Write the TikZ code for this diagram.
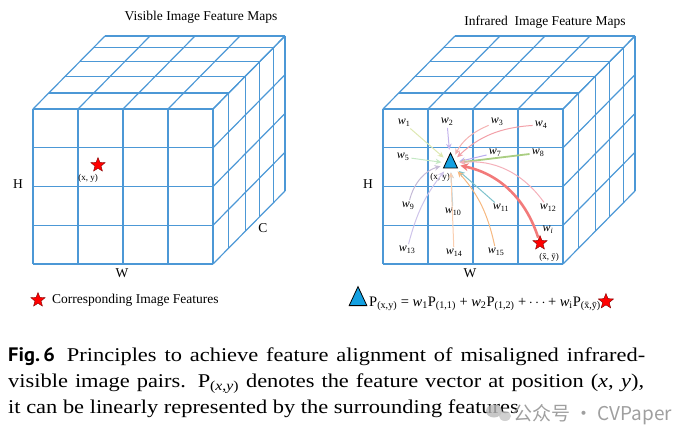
\documentclass[tikz,border=0pt]{standalone}
\usepackage{fontspec}
\setmainfont{Liberation Serif}
\newfontfamily\figsans[FakeStretch=1.05]{PT Sans}
\newfontfamily\capserif[FakeStretch=1.15]{Liberation Serif}
\newfontfamily\cjk{Noto Sans CJK SC}
\usetikzlibrary{arrows.meta,shapes.geometric}
\definecolor{gridblue}{RGB}{76,152,214}
\definecolor{tricyan}{RGB}{20,160,225}
\definecolor{cone}{RGB}{222,232,178}
\definecolor{ctwo}{RGB}{196,180,236}
\definecolor{cthree}{RGB}{244,178,178}
\definecolor{cfour}{RGB}{242,160,168}
\definecolor{cfive}{RGB}{196,232,196}
\definecolor{cseven}{RGB}{186,172,240}
\definecolor{ceight}{RGB}{170,206,130}
\definecolor{cnine}{RGB}{196,186,214}
\definecolor{cten}{RGB}{168,214,234}
\definecolor{celeven}{RGB}{126,194,204}
\definecolor{ctwelve}{RGB}{244,176,186}
\definecolor{cthirteen}{RGB}{206,196,234}
\definecolor{cfourteen}{RGB}{250,206,176}
\definecolor{cfifteen}{RGB}{246,184,128}
\definecolor{cwi}{RGB}{242,122,122}

\begin{document}
\begin{tikzpicture}[x=1pt,y=-1pt,
  grid/.style={gridblue,line width=1.2pt},
  lbl/.style={font=\fontsize{13.5}{15}\selectfont,inner sep=0pt},
  coord/.style={font=\fontsize{9}{10}\selectfont,inner sep=0pt},
  wlab/.style={font=\fontsize{12}{13}\selectfont,inner sep=1pt},
  wt/.style={-{Stealth[length=6pt,width=5.5pt]},line width=1pt,shorten >=4pt,shorten <=1pt},
  redstar/.style={shape=star,star points=5,star point ratio=2.3,fill=red,draw=red!50!black,line width=0.4pt,minimum size=15pt,inner sep=0pt},
  bluetri/.style={isosceles triangle,isosceles triangle apex angle=50,shape border rotate=90,fill=tricyan,draw=black,line width=0.8pt,minimum height=15pt,inner sep=0pt},
  capline/.style={font=\fontsize{19.5}{22}\capserif,inner sep=0pt,anchor=base west}]
\useasboundingbox (0,0) rectangle (694,442);
\foreach \ox in {33,383} {
  \begin{scope}[shift={(\ox,109)}]
    \foreach \i in {0,...,4} {
      \draw[grid] (\i*45,0) -- (\i*45,155);
      \draw[grid] (0,\i*38.75) -- (180,\i*38.75);
      \draw[grid] (\i*45,0) -- ++(72,-73);
      \draw[grid] (180,\i*38.75) -- ++(72,-73);
    }
    \foreach \f in {0.22,0.45,0.65,0.84,1} {
      \draw[grid] (\f*72,-\f*73) -- ++(180,0);
      \draw[grid] (180+\f*72,-\f*73) -- ++(0,155);
    }
  \end{scope}
}
% visible side
\node (ttlv) at (201,17) [lbl] {Visible Image Feature Maps};
\node (hv) at (18,184) [lbl] {H};
\node (wv) at (122,273) [lbl] {W};
\node (cv) at (263,228) [lbl] {C};
\node (starv) at (98,165) [redstar] {};
\node (xyv) at (88,178) [coord] {(x, y)};
\node (legstar) at (38,300) [redstar] {};
\node (legtxt) at (52,300) [lbl,anchor=west] {Corresponding Image Features};
% infrared side
\node (ttli) at (545,22) [lbl] {Infrared\ \ Image Feature Maps};
\node (hi) at (368,184) [lbl] {H};
\node (wir) at (470,273) [lbl] {W};
\node (tri) at (450.5,163.5) [bluetri] {};
\node (xyi) at (440,177) [coord] {(x, y)};
\node (stari) at (540,243) [redstar] {};
\node (xyb) at (549,257) [coord] {(\=x, \=y)};
\node (w1) at (404,123) [wlab] {\textit{w}\textsubscript{1}};
\node (w2) at (447,122) [wlab] {\textit{w}\textsubscript{2}};
\node (w3) at (497,122) [wlab] {\textit{w}\textsubscript{3}};
\node (w4) at (541,125) [wlab] {\textit{w}\textsubscript{4}};
\node (w5) at (403,157) [wlab] {\textit{w}\textsubscript{5}};
\node (w7) at (495,153) [wlab] {\textit{w}\textsubscript{7}};
\node (w8) at (538,153) [wlab] {\textit{w}\textsubscript{8}};
\node (w9) at (408,206) [wlab] {\textit{w}\textsubscript{9}};
\node (w10) at (453,212) [wlab] {\textit{w}\textsubscript{10}};
\node (w11) at (501,208) [wlab] {\textit{w}\textsubscript{11}};
\node (w12) at (548,208) [wlab] {\textit{w}\textsubscript{12}};
\node (w13) at (407,250) [wlab] {\textit{w}\textsubscript{13}};
\node (w14) at (454,253) [wlab] {\textit{w}\textsubscript{14}};
\node (w15) at (496,252) [wlab] {\textit{w}\textsubscript{15}};
\node (wi) at (548,230) [wlab] {\textit{w}\textsubscript{\textit{i}}};
\draw[wt,cone] (w1) -- (tri);
\draw[wt,ctwo] (w2) -- (tri);
\draw[wt,cthree] (w3) to[bend right=20] (tri);
\draw[wt,cfour] (w4) to[bend right=20] (tri);
\draw[wt,cfive] (w5) -- (tri);
\draw[wt,cseven] (w7) -- (tri);
\draw[wt,ceight,line width=1.8pt] (w8) -- (tri);
\draw[wt,cnine] (w9) to[bend left=30] (tri);
\draw[wt,cten] (w10) -- (tri);
\draw[wt,celeven] (w11) -- (tri);
\draw[wt,ctwelve] (w12) to[bend right=30] (tri);
\draw[wt,cthirteen] (w13) to[bend left=12] (tri);
\draw[wt,cfourteen] (w14) -- (tri);
\draw[wt,cfifteen] (w15) to[bend right=15] (tri);
\draw[wt,cwi,line width=2.6pt,-{Stealth[length=8pt,width=8pt]}] (stari) to[bend right=30] (tri);
% equation
\node (eqtri) at (358,300) [bluetri,minimum height=19pt] {};
\node (eq) at (369,306) [font=\fontsize{14.5}{16}\selectfont,inner sep=0pt,anchor=base west]
  {P\textsubscript{(x,y)} = \textit{w}\textsubscript{1}P\textsubscript{(1,1)} + \textit{w}\textsubscript{2}P\textsubscript{(1,2)} +\,$\cdots$\,+ \textit{w}\textsubscript{i}P\textsubscript{(\=x,\=y)}};
\node (eqstar) at (eq.east) [redstar,minimum size=16pt,anchor=west,xshift=0pt,yshift=2pt] {};
% caption
\node (cap1) at (8,361) [capline] {\makebox[637pt][s]{{\figsans\bfseries Fig.\,6}\hspace{12pt}Principles to achieve feature alignment of misaligned infrared-}};
\node (cap2) at (8,387) [capline] {\makebox[636pt][s]{visible image pairs. P\textsubscript{(\textit{x},\textit{y})} denotes the feature vector at position (\textit{x}, \textit{y}),}};
\node (cap3) at (8,413) [capline] {it can be linearly represented by the surrounding features};
\fill[gray!55,opacity=0.8] (494,411) ellipse (8pt and 6.5pt);
\fill[gray!45,opacity=0.8] (505,416) ellipse (6pt and 5pt);
\node (wm) at (513,420) [font=\fontsize{19}{21}\selectfont\cjk,text=gray!75,inner sep=0pt,anchor=base west] {公众号 · CVPaper};
\end{tikzpicture}
\end{document}
